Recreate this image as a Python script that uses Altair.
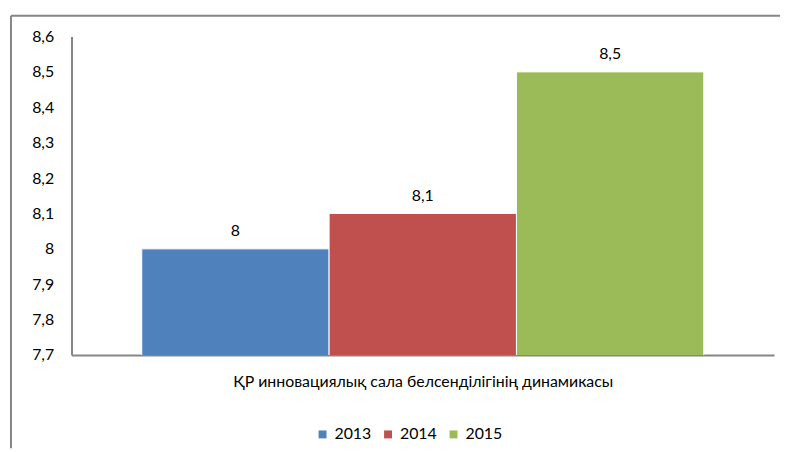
import altair as alt
import pandas as pd

years = ["2013", "2014", "2015"]
values = [8.0, 8.1, 8.5]
colors = ["#4F81BD", "#C0504D", "#9BBB59"]
y_ticks = [7.7, 7.8, 7.9, 8.0, 8.1, 8.2, 8.3, 8.4, 8.5, 8.6]
x_title = "ҚР инновациялық сала белсенділігінің динамикасы"

df = pd.DataFrame({"year": years, "value": values})

FONT = "Lato"
FS = 16
W, H = 708, 321
GRAY = "#868686"
fmt = "replace(format(datum.value, '.2~f'), '.', ',')"

x_enc = alt.X("year:N",
              scale=alt.Scale(paddingInner=0, paddingOuter=0.375),
              axis=alt.Axis(title=x_title, labels=False, ticks=False,
                            domainColor=GRAY, domainWidth=2,
                            titleFontSize=FS, titleFont=FONT, titleFontWeight="normal",
                            titleColor="black", titlePadding=19))
y_enc = alt.Y("value:Q",
              scale=alt.Scale(domain=[7.7, 8.6], nice=False, zero=False),
              axis=alt.Axis(title=None, values=y_ticks, labelExpr=fmt, ticks=False,
                            grid=False, domainColor=GRAY, domainWidth=2,
                            labelOverlap=False, labelBound=False, labelFlush=False,
                            labelPadding=18, labelFontSize=FS, labelFont=FONT,
                            labelColor="black"))

base = alt.Chart(df)

bars = base.mark_bar(stroke="white", strokeWidth=1, clip=True).encode(
    x=x_enc,
    y=y_enc,
    color=alt.Color("year:N",
                    scale=alt.Scale(domain=years, range=colors),
                    legend=alt.Legend(title=None, orient="none", legendX=245, legendY=393,
                                      direction="horizontal", symbolType="square",
                                      symbolSize=64, symbolStrokeWidth=0,
                                      labelFontSize=FS, labelFont=FONT, labelOffset=4,
                                      labelColor="black", columnPadding=8)),
)

text = base.transform_calculate(
    label=fmt
).mark_text(baseline="bottom", dy=-10, font=FONT, fontSize=FS, color="black").encode(
    x=x_enc,
    y=y_enc,
    text="label:N",
)

frame_data = alt.Data(values=[{"k": 1}])
left_rule = alt.Chart(frame_data).mark_rule(color=GRAY, strokeWidth=2).encode(
    x=alt.value(-61), y=alt.value(-21), y2=alt.value(415)
)
top_rule = alt.Chart(frame_data).mark_rule(color=GRAY, strokeWidth=2).encode(
    x=alt.value(-61), x2=alt.value(714), y=alt.value(-21)
)

chart = alt.layer(left_rule, top_rule, bars, text).properties(
    width=W, height=H,
    padding={"left": 2, "top": 5, "right": 0, "bottom": 0},
    background="white",
).configure_view(stroke=None)

chart.save("out.html", embed_options={"renderer": "svg", "actions": False})
